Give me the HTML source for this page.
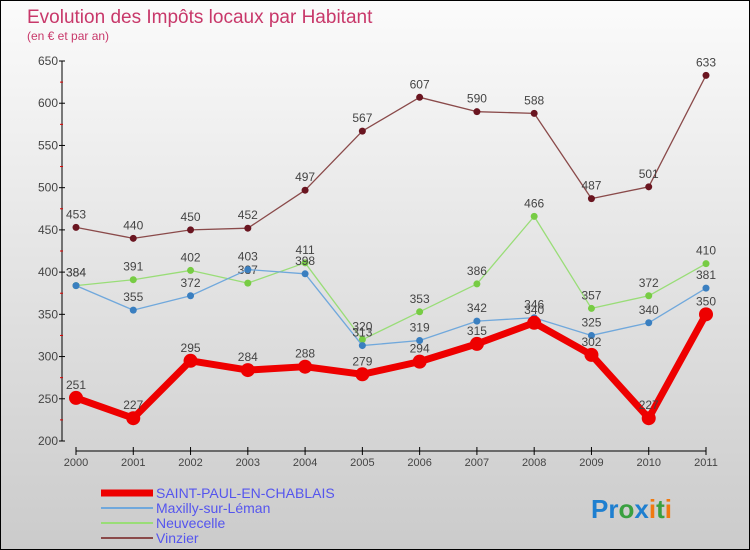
<!DOCTYPE html>
<html><head><meta charset="utf-8"><style>
body{margin:0}
#c{width:750px;height:550px;position:relative;overflow:hidden;box-sizing:border-box;border:1px solid #000;background:linear-gradient(#fbfbfb,#cbcbcb);font-family:"Liberation Sans",sans-serif}
svg{position:absolute;left:0;top:0}
</style></head><body>
<div id="c">
<svg id="s" width="750" height="550">
<text x="26" y="22" font-size="19" fill="#c8386a">Evolution des Impôts locaux par Habitant</text>
<text x="26" y="39" font-size="12" fill="#c8386a">(en € et par an)</text>
<text x="590" y="517" font-size="26" font-weight="bold"><tspan fill="#1e7fd0">Pr</tspan><tspan fill="#3aa040">o</tspan><tspan fill="#1e7fd0">x</tspan><tspan fill="#f07a10">i</tspan><tspan fill="#3aa040">t</tspan><tspan fill="#f07a10">i</tspan></text>
</svg></div>
<script>
const years=["2000","2001","2002","2003","2004","2005","2006","2007","2008","2009","2010","2011"];
const yTicks=[200,250,300,350,400,450,500,550,600,650];
const saintPaul=[251,227,295,284,288,279,294,315,340,302,227,350];
const maxilly=[384,355,372,403,398,313,319,342,346,325,340,381];
const neuvecelle=[384,391,402,387,411,320,353,386,466,357,372,410];
const vinzier=[453,440,450,452,497,567,607,590,588,487,501,633];
const NS="http://www.w3.org/2000/svg",svg=document.getElementById('s');
const X=i=>75+i*(705-75)/11, Y=v=>440-(v-200)*380/450;
function el(t,a,p){const e=document.createElementNS(NS,t);for(const k in a)e.setAttribute(k,a[k]);(p||svg).appendChild(e);return e;}
let ax=el('g',{});


el('line',{x1:61,y1:60,x2:61,y2:440,stroke:'#000'},ax);
el('line',{x1:75,y1:450,x2:705,y2:450,stroke:'#000'},ax);
yTicks.forEach((v,i)=>{el('line',{x1:58,x2:64,y1:Y(v),y2:Y(v),stroke:'#000'},ax);
 if(i<yTicks.length-1)el('line',{x1:59,x2:62,y1:Y(v+25),y2:Y(v+25),stroke:'#d00'},ax);
 const t=el('text',{x:57,y:Y(v)+4,'text-anchor':'end','font-size':12,fill:'#444'},ax);t.textContent=v;
 });
years.forEach((y,i)=>{el('line',{x1:X(i),x2:X(i),y1:446,y2:454,stroke:'#000'},ax);
 const t=el('text',{x:X(i),y:465,'text-anchor':'middle','font-size':11,fill:'#444'},ax);t.textContent=y;
 });
function series(name,data,lc,dc,w,r){const g=el('g',{});
 
 el('polyline',{points:data.map((v,i)=>X(i)+','+Y(v)).join(' '),fill:'none',stroke:lc,'stroke-width':w,'stroke-linejoin':'round'},g);
 data.forEach((v,i)=>{const c=el('circle',{cx:X(i),cy:Y(v),r:r,fill:dc},g);
  
  const t=el('text',{x:X(i),y:Y(v)-9,'text-anchor':'middle','font-size':12,fill:'#444'},g);t.textContent=v;
  });}
series('vinzier',vinzier,'#8a4a4a','#6a1520',1.3,3.5);
series('neuvecelle',neuvecelle,'#99dd77','#77cc44',1.3,3.5);
series('maxilly',maxilly,'#70a8dc','#3a7fc0',1.3,3.5);
series('saint-paul',saintPaul,'#ee0000','#ee0000',7,7);
const leg=[["SAINT-PAUL-EN-CHABLAIS","#ee0000",7],["Maxilly-sur-Léman","#70a8dc",2],["Neuvecelle","#99dd77",2],["Vinzier","#8a4a4a",2]];
leg.forEach((l,i)=>{const g=el('g',{});
 const y=492+i*15;el('line',{x1:100,x2:152,y1:y,y2:y,stroke:l[1],'stroke-width':l[2]},g);
 const t=el('text',{x:155,y:y+5,'font-size':14,fill:'#5555ee'},g);t.textContent=l[0];});
</script></body></html>
